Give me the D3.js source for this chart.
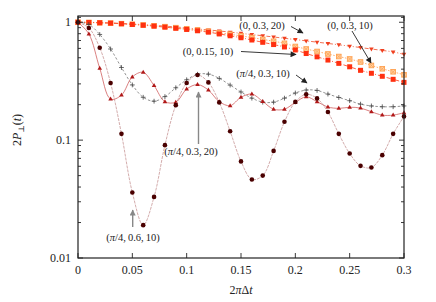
<!DOCTYPE html>
<html>
<head>
<meta charset="utf-8">
<script src="https://cdn.jsdelivr.net/npm/d3@7"></script>
<style>
  html, body { margin: 0; padding: 0; background: #fff; }
  svg text { font-family: "Liberation Serif", "DejaVu Serif", serif; fill: #222; }
</style>
</head>
<body>
<svg id="chart" width="436" height="302"></svg>
<script>
// sample times (2*pi*dt)
const times = [0, 0.01, 0.02, 0.03, 0.04, 0.05, 0.06, 0.07, 0.08, 0.09, 0.10,
  0.11, 0.12, 0.13, 0.14, 0.15, 0.16, 0.17, 0.18, 0.19, 0.20,
  0.21, 0.22, 0.23, 0.24, 0.25, 0.26, 0.27, 0.28, 0.29, 0.30];

// (0, 0.3, 20)
const serA = [1, 0.998, 0.994, 0.986, 0.977, 0.967, 0.954, 0.941, 0.927, 0.912, 0.895,
  0.877, 0.860, 0.844, 0.824, 0.805, 0.786, 0.768, 0.750, 0.731, 0.713,
  0.695, 0.678, 0.661, 0.644, 0.627, 0.610, 0.593, 0.577, 0.560, 0.534];
// (0, 0.3, 10)
const serB = [1, 0.996, 0.990, 0.983, 0.973, 0.962, 0.949, 0.934, 0.918, 0.900, 0.881,
  0.860, 0.839, 0.814, 0.791, 0.766, 0.741, 0.716, 0.690, 0.663, 0.623,
  0.593, 0.565, 0.538, 0.512, 0.488, 0.460, 0.430, 0.403, 0.380, 0.358];
// (0, 0.15, 10)
const serC = [1, 0.996, 0.990, 0.983, 0.971, 0.958, 0.943, 0.927, 0.909, 0.889, 0.869,
  0.847, 0.824, 0.796, 0.768, 0.739, 0.707, 0.676, 0.647, 0.617, 0.582,
  0.543, 0.509, 0.478, 0.448, 0.419, 0.391, 0.369, 0.348, 0.328, 0.309];
// (pi/4, 0.3, 10)
const serD = [1, 0.958, 0.788, 0.593, 0.413, 0.294, 0.231, 0.214, 0.234, 0.278, 0.325,
  0.362, 0.363, 0.334, 0.293, 0.256, 0.227, 0.210, 0.210, 0.227, 0.251,
  0.266, 0.264, 0.246, 0.230, 0.216, 0.202, 0.195, 0.192, 0.192, 0.195];
// (pi/4, 0.3, 20)
const serE = [1, 0.796, 0.407, 0.223, 0.241, 0.344, 0.376, 0.290, 0.212, 0.210, 0.271,
  0.296, 0.266, 0.212, 0.196, 0.231, 0.246, 0.213, 0.183, 0.183, 0.209,
  0.233, 0.212, 0.191, 0.186, 0.190, 0.187, 0.174, 0.163, 0.163, 0.171];
// (pi/4, 0.6, 10)
const serF = [1, 0.895, 0.608, 0.305, 0.113, 0.036, 0.019, 0.033, 0.0907, 0.198, 0.305,
  0.357, 0.309, 0.209, 0.119, 0.066, 0.0464, 0.050, 0.081, 0.143, 0.211,
  0.245, 0.226, 0.173, 0.113, 0.077, 0.0605, 0.0586, 0.0746, 0.113, 0.159];

const xTicks = [0, 0.05, 0.1, 0.15, 0.2, 0.25, 0.3];
const xTickLabels = ['0', '0.05', '0.1', '0.15', '0.2', '0.25', '0.3'];
const yTicks = [0.01, 0.1, 1];
const yTickLabels = ['0.01', '0.1', '1'];

const svg = d3.select('#chart');
const plotLeft = 78, plotRight = 404, plotTop = 16, plotBottom = 258;

const x = d3.scaleLinear().domain([0, 0.3]).range([plotLeft, plotRight]);
const y = d3.scaleLog().domain([0.01, 1.13]).range([plotBottom, plotTop]);

// arrowheads
const defs = svg.append('defs');
[['arrBlack', '#222'], ['arrGray', '#888']].forEach(([id, c]) => {
  defs.append('marker')
    .attr('id', id)
    .attr('viewBox', '0 0 10 10')
    .attr('refX', 9).attr('refY', 5)
    .attr('markerWidth', 7).attr('markerHeight', 6)
    .attr('markerUnits', 'userSpaceOnUse')
    .attr('orient', 'auto')
    .append('path')
    .attr('d', 'M0,0L10,5L0,10z')
    .attr('fill', c);
});

// series definitions
const series = [
  { vals: serA, line: '#f06040', dash: '4,2,1,2', width: 0.9, marker: 'tridown', fill: '#f04020' },
  { vals: serB, line: '#ffb070', dash: '1.5,1.5', width: 1, marker: 'xsquare', fill: '#ffa050' },
  { vals: serC, line: '#ff5030', dash: '4,2,1,2', width: 0.9, marker: 'square', fill: '#ff3010' },
  { vals: serD, line: '#777', dash: '2.5,2', width: 0.8, marker: 'plus', fill: '#444' },
  { vals: serE, line: '#d06060', dash: null, width: 0.8, marker: 'triup', fill: '#b01818' },
  { vals: serF, line: '#c08888', dash: '3,1', width: 0.7, marker: 'circle', fill: '#4a0000' }
];

const line = d3.line()
  .x(d => x(d[0]))
  .y(d => y(d[1]))
  .curve(d3.curveCatmullRom.alpha(0.5));

const plot = svg.append('g');

series.forEach(s => {
  const pts = times.map((t, i) => [t, s.vals[i]]);
  plot.append('path')
    .attr('d', line(pts))
    .attr('fill', 'none')
    .attr('stroke', s.line)
    .attr('stroke-width', s.width)
    .attr('stroke-dasharray', s.dash);

  const g = plot.append('g');
  pts.forEach(p => {
    const px = x(p[0]), py = y(p[1]);
    const m = g.append('g').attr('transform', `translate(${px},${py})`);
    if (s.marker === 'circle') {
      m.append('circle').attr('r', 2.3).attr('fill', s.fill);
    } else if (s.marker === 'triup') {
      m.append('path').attr('d', 'M0,-2.5L2.3,1.5L-2.3,1.5z').attr('fill', s.fill);
    } else if (s.marker === 'tridown') {
      m.append('path').attr('d', 'M0,2.5L2.3,-1.5L-2.3,-1.5z').attr('fill', s.fill);
    } else if (s.marker === 'square') {
      m.append('rect').attr('x', -2.5).attr('y', -2.5).attr('width', 5).attr('height', 5)
        .attr('fill', s.fill);
    } else if (s.marker === 'xsquare') {
      m.append('rect').attr('x', -2.3).attr('y', -2.3).attr('width', 4.6).attr('height', 4.6)
        .attr('fill', '#ffd0a0').attr('stroke', s.fill).attr('stroke-width', 0.9);
      m.append('path').attr('d', 'M-2.3,-2.3L2.3,2.3M-2.3,2.3L2.3,-2.3')
        .attr('stroke', s.fill).attr('stroke-width', 0.7);
    } else if (s.marker === 'plus') {
      m.append('path').attr('d', 'M-2.4,0H2.4M0,-2.4V2.4')
        .attr('stroke', s.fill).attr('stroke-width', 0.8);
    }
  });
});

// frame
svg.append('rect')
  .attr('x', plotLeft).attr('y', plotTop)
  .attr('width', plotRight - plotLeft).attr('height', plotBottom - plotTop)
  .attr('fill', 'none').attr('stroke', '#222').attr('stroke-width', 1.2);

// ticks (inward, mirrored)
const tickG = svg.append('g').attr('stroke', '#222').attr('stroke-width', 0.9);
xTicks.forEach(t => {
  tickG.append('line').attr('x1', x(t)).attr('x2', x(t)).attr('y1', plotBottom).attr('y2', plotBottom - 5);
  tickG.append('line').attr('x1', x(t)).attr('x2', x(t)).attr('y1', plotTop).attr('y2', plotTop + 5);
});
const minorY = [];
[0.01, 0.1].forEach(dec => {
  for (let k = 2; k <= 9; k++) minorY.push(dec * k);
});
minorY.push(1.1);
yTicks.forEach(v => {
  tickG.append('line').attr('x1', plotLeft).attr('x2', plotLeft + 5).attr('y1', y(v)).attr('y2', y(v));
  tickG.append('line').attr('x1', plotRight).attr('x2', plotRight - 5).attr('y1', y(v)).attr('y2', y(v));
});
minorY.forEach(v => {
  tickG.append('line').attr('x1', plotLeft).attr('x2', plotLeft + 3).attr('y1', y(v)).attr('y2', y(v));
  tickG.append('line').attr('x1', plotRight).attr('x2', plotRight - 3).attr('y1', y(v)).attr('y2', y(v));
});

// tick labels
xTicks.forEach((t, i) => {
  svg.append('text')
    .attr('x', x(t)).attr('y', 274)
    .attr('text-anchor', 'middle')
    .attr('font-size', 12)
    .text(xTickLabels[i]);
});
yTicks.forEach((v, i) => {
  svg.append('text')
    .attr('x', 71).attr('y', y(v) + 4)
    .attr('text-anchor', 'end')
    .attr('font-size', 12)
    .text(yTickLabels[i]);
});

// axis labels
const xl = svg.append('text')
  .attr('x', (plotLeft + plotRight) / 2).attr('y', 294)
  .attr('text-anchor', 'middle')
  .attr('font-size', 12);
xl.append('tspan').text('2');
xl.append('tspan').attr('font-style', 'italic').text('π');
xl.append('tspan').text('Δ');
xl.append('tspan').attr('font-style', 'italic').text('t');

const yl = svg.append('text')
  .attr('transform', 'translate(21,130) rotate(-90)')
  .attr('text-anchor', 'middle')
  .attr('font-size', 12);
yl.append('tspan').text('2');
yl.append('tspan').attr('font-style', 'italic').text('P');
yl.append('tspan').attr('font-size', 8).attr('dy', 3).text('⊥');
yl.append('tspan').attr('dy', -3).text('(');
yl.append('tspan').attr('font-style', 'italic').text('t');
yl.append('tspan').text(')');

// annotations
const notes = [
  { parts: ['(0,\u20090.3,\u200920)'], tx: 262, ty: 29, from: [291, 26.5], to: [303, 33], arr: 'arrBlack' },
  { parts: ['(0,\u20090.3,\u200910)'], tx: 350, ty: 29, from: [352, 31], to: [371, 63], arr: 'arrBlack' },
  { parts: ['(0,\u20090.15,\u200910)'], tx: 208, ty: 55, from: [241, 51.5], to: [296, 54.5], arr: 'arrBlack' },
  { parts: ['(', 'π', '/4,\u20090.3,\u200910)'], tx: 263, ty: 77, from: [296, 75], to: [307, 83], arr: 'arrBlack' },
  { parts: ['(', 'π', '/4,\u20090.3,\u200920)'], tx: 191, ty: 155, from: [198.5, 144], to: [198.5, 92], arr: 'arrGray' },
  { parts: ['(', 'π', '/4,\u20090.6,\u200910)'], tx: 133, ty: 241, from: [132.7, 227], to: [132.7, 210], arr: 'arrGray' }
];

notes.forEach(n => {
  const t = svg.append('text')
    .attr('x', n.tx).attr('y', n.ty)
    .attr('text-anchor', 'middle')
    .attr('font-size', 10.5);
  n.parts.forEach(p => {
    const sp = t.append('tspan').text(p);
    if (p === 'π') sp.attr('font-style', 'italic');
  });
  svg.append('line')
    .attr('x1', n.from[0]).attr('y1', n.from[1])
    .attr('x2', n.to[0]).attr('y2', n.to[1])
    .attr('stroke', n.arr === 'arrGray' ? '#888' : '#222')
    .attr('stroke-width', n.arr === 'arrGray' ? 1.4 : 0.9)
    .attr('marker-end', `url(#${n.arr})`);
});
</script>
</body>
</html>
